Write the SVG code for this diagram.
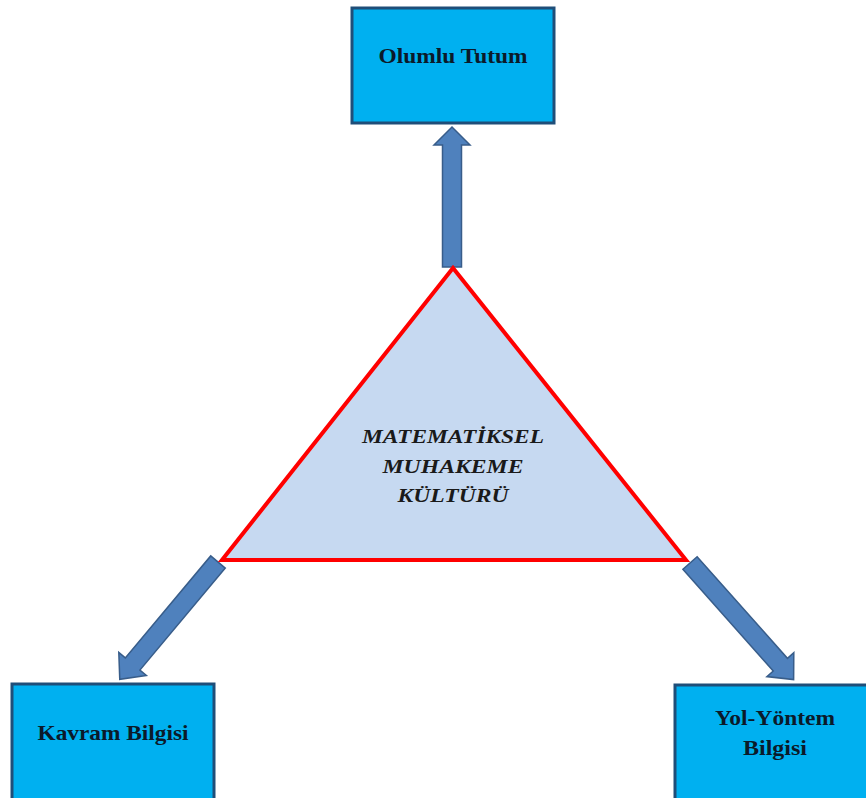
<svg xmlns="http://www.w3.org/2000/svg" width="866" height="798" viewBox="0 0 866 798">
  <style>
    .box { fill: #00B0F0; stroke: #1F4E79; stroke-width: 3; }
    .lbl { font-family: "Liberation Serif", "DejaVu Serif", serif; font-weight: 700; font-size: 22px; fill: #0B1A2A; text-anchor: middle; }
    .core { font-family: "Liberation Serif", "DejaVu Serif", serif; font-weight: 700; font-style: italic; font-size: 19px; fill: #1A1A1A; text-anchor: middle; }
    .arrow { fill: #4F81BD; stroke: #385D8A; stroke-width: 1.5; stroke-linejoin: miter; }
  </style>
  <rect width="866" height="798" fill="#FFFFFF"/>

  <g id="connectors">
    <!-- up: triangle apex to Olumlu Tutum -->
    <polygon class="arrow" transform="translate(452,267) rotate(-90)" points="0,-9.5 122,-9.5 122,-18 140,0 122,18 122,9.5 0,9.5"/>
    <!-- down-left: to Kavram Bilgisi -->
    <polygon class="arrow" transform="translate(218,562) rotate(129.95)" points="0,-9.5 133,-9.5 133,-18 153,0 133,18 133,9.5 0,9.5"/>
    <!-- down-right: to Yol-Yöntem Bilgisi -->
    <polygon class="arrow" transform="translate(690,563) rotate(48.37)" points="0,-9.5 136,-9.5 136,-18 156,0 136,18 136,9.5 0,9.5"/>
  </g>

  <g id="core">
    <polygon points="453,268 222,560 686,560" fill="#C6D9F1" stroke="#FF0000" stroke-width="4" stroke-linejoin="miter"/>
    <text class="core" x="453" y="443" textLength="182" lengthAdjust="spacingAndGlyphs">MATEMATİKSEL</text>
    <text class="core" x="453" y="473" textLength="141" lengthAdjust="spacingAndGlyphs">MUHAKEME</text>
    <text class="core" x="453" y="502" textLength="111" lengthAdjust="spacingAndGlyphs">KÜLTÜRÜ</text>
  </g>

  <g id="olumlu-tutum">
    <rect class="box" x="352" y="8" width="202" height="115"/>
    <text class="lbl" x="453" y="63" textLength="149" lengthAdjust="spacingAndGlyphs">Olumlu Tutum</text>
  </g>

  <g id="kavram-bilgisi">
    <rect class="box" x="12" y="684" width="202" height="130"/>
    <text class="lbl" x="113" y="740" textLength="151" lengthAdjust="spacingAndGlyphs">Kavram Bilgisi</text>
  </g>

  <g id="yol-yontem-bilgisi">
    <rect class="box" x="675" y="685" width="202" height="130"/>
    <text class="lbl" x="775" y="725" textLength="120" lengthAdjust="spacingAndGlyphs">Yol-Yöntem</text>
    <text class="lbl" x="775" y="755" textLength="64" lengthAdjust="spacingAndGlyphs">Bilgisi</text>
  </g>
</svg>
